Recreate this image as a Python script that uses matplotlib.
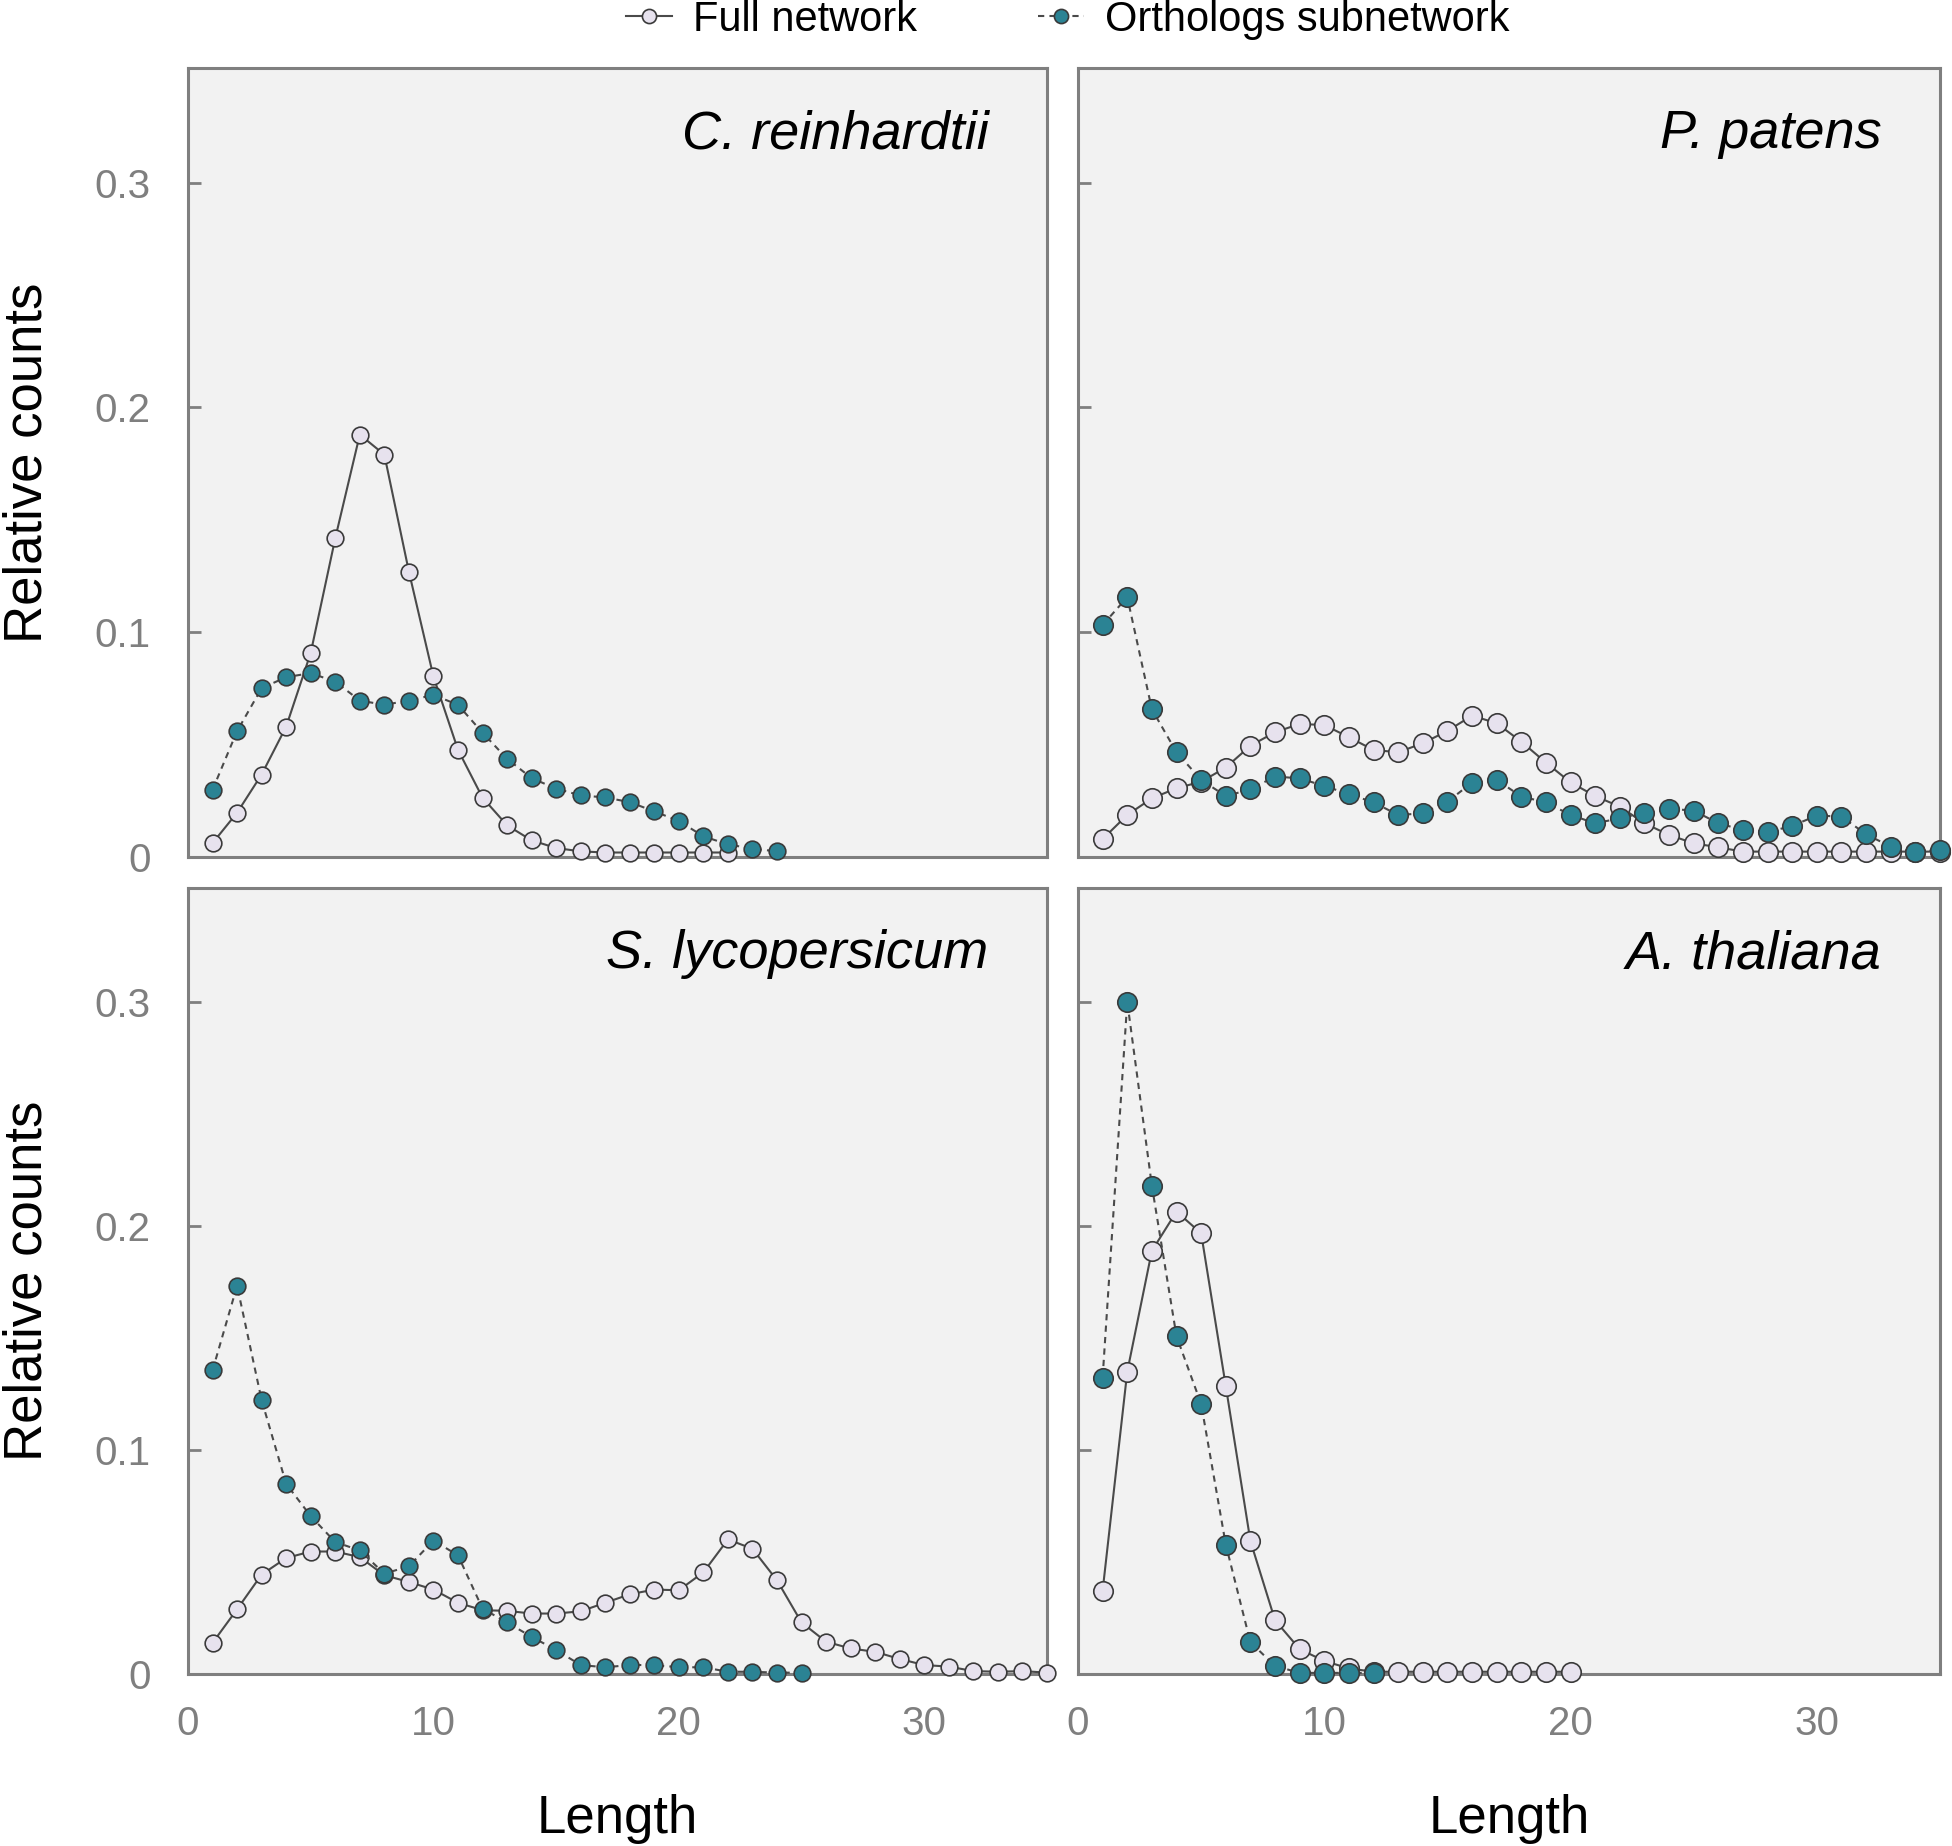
import numpy as np
import matplotlib
matplotlib.use('Agg')
import matplotlib.pyplot as plt

plt.rcParams['font.family'] = ['Liberation Sans', 'DejaVu Sans']

# Relative counts per path length
cr_full = [0.0062, 0.0197, 0.0367, 0.058, 0.0908, 0.1418, 0.1879, 0.179, 0.127, 0.0803,
           0.0477, 0.0264, 0.0141, 0.0074, 0.004, 0.0025, 0.002, 0.002, 0.002, 0.002,
           0.002, 0.002]
cr_orth = [0.0299, 0.056, 0.0751, 0.080, 0.0818, 0.078, 0.0696, 0.0677, 0.0696, 0.0721,
           0.0677, 0.0553, 0.0437, 0.0351, 0.0304, 0.0274, 0.0265, 0.0244, 0.0203, 0.016,
           0.0092, 0.0056, 0.0037, 0.0025]

pp_full = [0.008, 0.0187, 0.0261, 0.0306, 0.0335, 0.0398, 0.0495, 0.0555, 0.0592, 0.0587,
           0.0533, 0.0476, 0.0466, 0.0506, 0.0561, 0.0629, 0.0595, 0.0513, 0.042, 0.0332,
           0.0271, 0.0224, 0.015, 0.0098, 0.0061, 0.0043, 0.0024, 0.0024, 0.0024, 0.0024,
           0.0024, 0.0024, 0.0024, 0.0024, 0.0024]
pp_orth = [0.1032, 0.1156, 0.0657, 0.0466, 0.0343, 0.0271, 0.0301, 0.0358, 0.035, 0.0316,
           0.028, 0.0243, 0.0187, 0.0194, 0.0246, 0.0331, 0.0343, 0.0269, 0.0243, 0.0187,
           0.015, 0.0172, 0.0197, 0.0215, 0.0206, 0.015, 0.012, 0.011, 0.0139, 0.0184,
           0.018, 0.0101, 0.0046, 0.0024, 0.0031]

sl_full = [0.0139, 0.0289, 0.0444, 0.0518, 0.0547, 0.0547, 0.0522, 0.0441, 0.0411, 0.0377,
           0.0318, 0.0285, 0.0282, 0.027, 0.027, 0.028, 0.0318, 0.0356, 0.0377, 0.0374,
           0.0454, 0.0601, 0.0559, 0.0418, 0.023, 0.0144, 0.0114, 0.0099, 0.0067, 0.004,
           0.0033, 0.0013, 0.001, 0.0013, 0.0006]
sl_orth = [0.1356, 0.1734, 0.1223, 0.0849, 0.0705, 0.0589, 0.0552, 0.0448, 0.0481, 0.0596,
           0.053, 0.0292, 0.023, 0.0166, 0.0107, 0.004, 0.003, 0.004, 0.004, 0.003,
           0.003, 0.001, 0.001, 0.0006, 0.0006]

at_full = [0.0372, 0.135, 0.189, 0.2065, 0.1968, 0.1286, 0.0594, 0.024, 0.0111, 0.0058,
           0.0025, 0.001, 0.001, 0.001, 0.001, 0.001, 0.001, 0.001, 0.001, 0.001]
at_orth = [0.1324, 0.3002, 0.218, 0.1508, 0.1206, 0.0578, 0.0142, 0.0036, 0.0005, 0.0005,
           0.0005, 0.0005]

species = ['C. reinhardtii', 'P. patens', 'S. lycopersicum', 'A. thaliana']
full_data = [cr_full, pp_full, sl_full, at_full]
orth_data = [cr_orth, pp_orth, sl_orth, at_orth]

full_face = '#e7e2ee'
orth_face = '#2b8394'
edge = '#3a3a3a'
line_col = '#4a4a4a'
frame = '#7f7f7f'

W, H = 1952, 1846
fig = plt.figure(figsize=(W / 100, H / 100), dpi=100)

# axes rectangles in pixels: left, top, right, bottom
boxes = [(188, 68, 1047, 857), (1078, 68, 1940, 857),
         (188, 888, 1047, 1674), (1078, 888, 1940, 1674)]
msizes = [12, 14, 12, 14]

axes = []
for i, (l, t, r, b) in enumerate(boxes):
    ax = fig.add_axes([l / W, 1 - b / H, (r - l) / W, (b - t) / H])
    ax.set_facecolor('#f2f2f2')
    full = full_data[i]
    orth = orth_data[i]
    xf = np.arange(1, len(full) + 1)
    xo = np.arange(1, len(orth) + 1)
    ms = msizes[i]
    ax.plot(xf, full, '-', color=line_col, lw=1.5, marker='o', ms=ms,
            mfc=full_face, mec=edge, mew=1.2, clip_on=False, zorder=3,
            label='Full network')
    ax.plot(xo, orth, color=line_col, lw=1.5, ls=(0, (3, 2.5)), marker='o', ms=ms,
            mfc=orth_face, mec=edge, mew=1.2, clip_on=False, zorder=4,
            label='Orthologs subnetwork')
    ax.set_xlim(0, 35)
    ax.set_ylim(0, 0.351)
    ax.set_yticks([0, 0.1, 0.2, 0.3])
    ax.set_yticklabels(['0', '0.1', '0.2', '0.3'])
    ax.set_xticks([0, 10, 20, 30])
    ax.tick_params(axis='y', direction='in', length=9, width=2, color=frame,
                   labelsize=29, labelcolor=frame, pad=27)
    ax.tick_params(axis='x', length=0, labelsize=29, labelcolor=frame, pad=22)
    if i % 2 == 1:
        ax.tick_params(axis='y', labelleft=False)
    else:
        ax.set_ylabel('Relative counts', fontsize=38)
        ax.yaxis.set_label_coords(-0.170, 0.5)
        ax.yaxis.label.set_verticalalignment('baseline')
    if i < 2:
        ax.tick_params(axis='x', labelbottom=False)
    else:
        ax.set_xlabel('Length', fontsize=38)
        ax.xaxis.set_label_coords(0.5, -0.202)
        ax.xaxis.label.set_verticalalignment('baseline')
    for s in ax.spines.values():
        s.set_color(frame)
        s.set_linewidth(2.2)
    ax.text(0.932, 0.916, species[i], transform=ax.transAxes, ha='right', va='center',
            fontsize=39, style='italic')
    axes.append(ax)

handles, labels = axes[0].get_legend_handles_labels()
leg = fig.legend(handles, labels, loc='center', bbox_to_anchor=(0.547, 1 - 20 / H),
                 ncol=2, frameon=False, fontsize=30, handlelength=1.1,
                 handletextpad=0.5, columnspacing=2.9, markerscale=0.85)

fig.savefig('out.png', dpi=100)
